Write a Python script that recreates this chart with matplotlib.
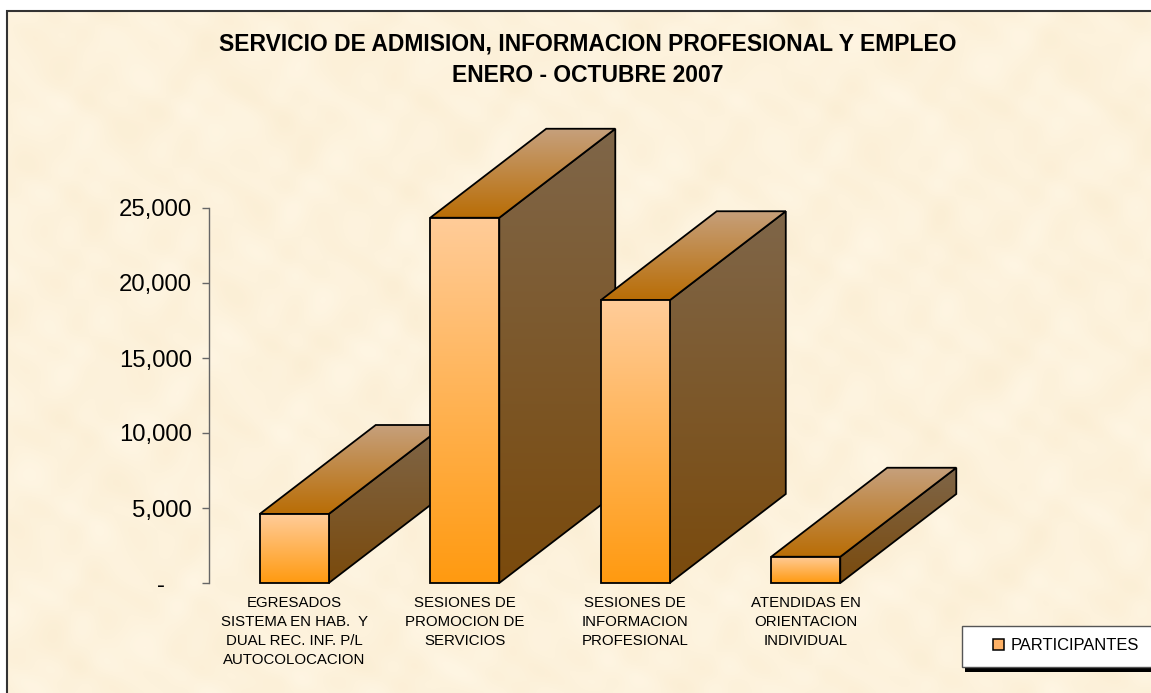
import numpy as np
import matplotlib
matplotlib.use("Agg")
import matplotlib.pyplot as plt
from matplotlib.patches import Polygon, Patch, Rectangle
from matplotlib.transforms import Affine2D

categories = ["EGRESADOS\nSISTEMA EN HAB.  Y\nDUAL REC. INF. P/L\nAUTOCOLOCACION",
              "SESIONES DE\nPROMOCION DE\nSERVICIOS",
              "SESIONES DE\nINFORMACION\nPROFESIONAL",
              "ATENDIDAS EN\nORIENTACION\nINDIVIDUAL"]
participantes = [4600, 24350, 18850, 1750]
y_ticks = [0, 5000, 10000, 15000, 20000, 25000]
y_labels = ["-    ", "5,000", "10,000", "15,000", "20,000", "25,000"]
title = "SERVICIO DE ADMISION, INFORMACION PROFESIONAL Y EMPLEO\nENERO - OCTUBRE 2007"
series_name = "PARTICIPANTES"

W, H = 1151, 693
plt.rcParams["font.family"] = ["Liberation Sans"]
fig = plt.figure(figsize=(W / 100, H / 100), dpi=100, facecolor="white")
px = Affine2D().scale(1, -1).translate(0, H)  # pixel coordinates, y down

# parchment background, built from overlaid waves
bg = fig.add_axes([0, 0, 1, 1], zorder=0)
bg.set_axis_off()
yy, xx = np.mgrid[0:H, 0:W]
t = (np.sin(xx / 23 + np.sin(yy / 31) * 2.1) + np.sin(yy / 19 + np.sin(xx / 27) * 2.3)
     + 0.8 * np.sin((xx + yy) / 11 + np.cos(xx / 17)) + 0.8 * np.sin((xx - yy) / 9 + np.cos(yy / 13))) / 3.6
base = np.array([253, 242, 220]) / 255
amp = np.array([1.5, 3.5, 7]) / 255
tex = np.clip(base[None, None] + t[..., None] * amp[None, None], 0, 1)
tex[:11, :] = 1
tex[:, :7] = 1
bg.imshow(tex, extent=(0, W, H, 0), aspect="auto", interpolation="nearest")
bg.plot([7, 7, W], [H, 11, 11], color="#333333", lw=1.5, solid_joinstyle="miter")
bg.set_xlim(0, W)
bg.set_ylim(H, 0)

# plotting axes: pixel placement of the value axis
L, T, B = 209, 208, 583
pitch = 170.5
ax = fig.add_axes([L / W, 1 - B / H, 4 * pitch / W, (B - T) / H], zorder=1)
ax.patch.set_alpha(0)
xlim = (-0.5, 3.5)
ylim = (0, 25000)
xs = np.arange(len(categories))
bar_w = 0.405
dx = 116 / pitch          # depth in x units
dy = 89 / ((B - T) / 25000)  # depth in value units


def grad(c0, c1):
    c0, c1 = np.array(matplotlib.colors.to_rgb(c0)), np.array(matplotlib.colors.to_rgb(c1))
    f = np.linspace(0, 1, 256)[:, None, None]
    return c0[None, None] * (1 - f) + c1[None, None] * f


def shaded_face(poly_xy, top, bottom, z):
    p = np.array(poly_xy)
    im = ax.imshow(grad(top, bottom), extent=(p[:, 0].min(), p[:, 0].max(), p[:, 1].min(), p[:, 1].max()),
                   aspect="auto", origin="upper", zorder=z, interpolation="bilinear")
    patch = Polygon(p, closed=True, facecolor="none", edgecolor="black", lw=1.3, zorder=z + 0.1,
                    joinstyle="miter", clip_on=False)
    ax.add_patch(patch)
    im.set_clip_path(patch)
    im.set_clip_box(fig.bbox)


bars = ax.bar(xs, participantes, bar_w, color="none", edgecolor="none", zorder=1)
for i, r in enumerate(bars):
    x0, x1, v = r.get_x(), r.get_x() + r.get_width(), r.get_height()
    z = 2 + i * 3
    shaded_face([(x1, 0), (x1 + dx, dy), (x1 + dx, v + dy), (x1, v)], "#7F6649", "#7A4A0C", z)
    shaded_face([(x0, v), (x1, v), (x1 + dx, v + dy), (x0 + dx, v + dy)], "#C6A07C", "#B96D05", z + 1)
    shaded_face([(x0, 0), (x1, 0), (x1, v), (x0, v)], "#FFCC99", "#FF9A10", z + 2)

ax.set_xlim(*xlim)
ax.set_ylim(*ylim)
for s in ("top", "right", "bottom"):
    ax.spines[s].set_visible(False)
ax.spines["left"].set_color("#666666")
ax.spines["left"].set_linewidth(1.0)
ax.set_yticks(y_ticks, y_labels, fontsize=17.2, color="black")
ax.tick_params(axis="y", length=5, width=1.0, color="#666666", pad=7.5)
ax.set_xticks(xs, categories, fontsize=10.8, linespacing=1.44)
ax.tick_params(axis="x", length=0, pad=9.5)

fig.text(587.5 / W, 1 - 44 / H, title.split("\n")[0], ha="center", va="center", fontsize=16.5, fontweight="bold")
fig.text(587.5 / W, 1 - 75 / H, title.split("\n")[1], ha="center", va="center", fontsize=16.5, fontweight="bold")

# legend box (runs off the right edge) and legend
fig.patches.append(Rectangle((965, 630), 200, 42, transform=px, facecolor="black", edgecolor="none", zorder=5, figure=fig))
fig.patches.append(Rectangle((961.5, 626), 200, 40.5, transform=px, facecolor="white", edgecolor="#555555", lw=1, zorder=6, figure=fig))
leg = fig.legend(handles=[Patch(facecolor="#FFB266", edgecolor="black", lw=1.1, label=series_name)],
                 loc="center left", bbox_to_anchor=(993 / W, 1 - 645.5 / H), frameon=False, fontsize=11.9,
                 handlelength=0.65, handleheight=0.65, handletextpad=0.4, borderpad=0, borderaxespad=0)
leg.set_zorder(7)

fig.savefig("out.png", dpi=100)
